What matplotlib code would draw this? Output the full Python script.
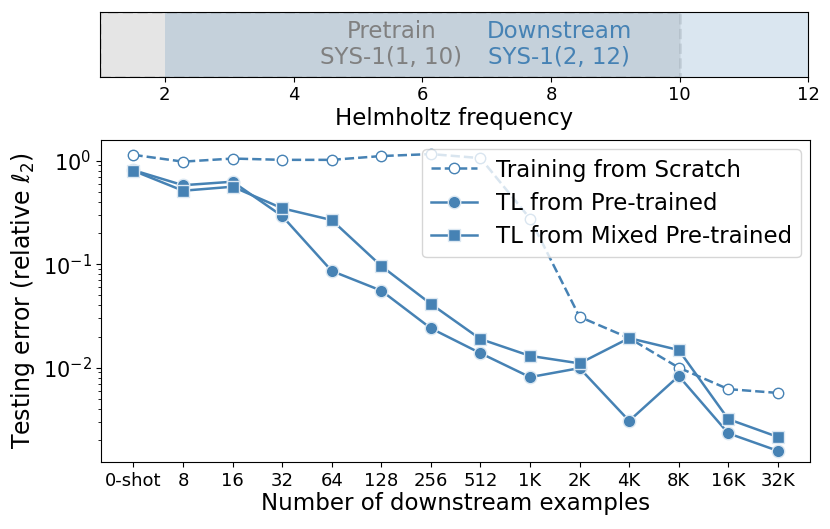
import matplotlib
matplotlib.use('Agg')
import matplotlib.pyplot as plt
import numpy as np

# data
labels = ['0-shot', '8', '16', '32', '64', '128', '256', '512',
          '1K', '2K', '4K', '8K', '16K', '32K']
scratch = [1.14, 0.98, 1.05, 1.02, 1.02, 1.11, 1.16, 1.06,
           0.276, 0.031, 0.0193, 0.0100, 0.0062, 0.0057]
tl_pre = [0.81, 0.58, 0.627, 0.292, 0.086, 0.0555, 0.0240, 0.0138,
          0.0081, 0.0099, 0.00306, 0.0083, 0.00232, 0.00157]
tl_mixed = [0.80, 0.513, 0.561, 0.347, 0.267, 0.096, 0.0413, 0.0189,
            0.0130, 0.0110, 0.0193, 0.0148, 0.00318, 0.00214]

pretrain_range = (1, 10)
downstream_range = (2, 12)

color = 'steelblue'
x = np.arange(len(labels))

fig = plt.figure(figsize=(8.3, 5.29), dpi=100)

# bande du haut : plages de frequence
ax0 = fig.add_axes([0.121, 0.855, 0.853, 0.122])
ax0.axvspan(*pretrain_range, facecolor='gray', alpha=0.2,
            edgecolor='gray', linestyle='--', linewidth=2)
ax0.axvspan(*downstream_range, facecolor=color, alpha=0.2)
ax0.set_xlim(1, 12)
ax0.set_xticks([2, 4, 6, 8, 10, 12])
ax0.set_yticks([])
ax0.tick_params(labelsize=13)
ax0.set_xlabel('Helmholtz frequency', fontsize=16.5, labelpad=2)
ax0.text(6.62, 0.5, 'Pretrain\nSYS-1(1, 10)', color='gray', fontsize=16.5,
         ha='right', va='center', multialignment='center',
         transform=ax0.get_xaxis_transform())
ax0.text(7.0, 0.5, 'Downstream\nSYS-1(2, 12)', color=color, fontsize=16.5,
         ha='left', va='center', multialignment='center',
         transform=ax0.get_xaxis_transform())

# graphique principal
ax = fig.add_axes([0.122, 0.127, 0.854, 0.608])
ax.plot(x, scratch, '--o', color=color, markerfacecolor='white',
        markersize=7.5, linewidth=1.8, label='Training from Scratch')
ax.plot(x, tl_pre, '-o', color=color, markeredgecolor='#dce8f2',
        markersize=9, linewidth=1.8, label='TL from Pre-trained')
ax.plot(x, tl_mixed, '-s', color=color, markeredgecolor='#dce8f2',
        markersize=9, linewidth=1.8, label='TL from Mixed Pre-trained')
ax.set_yscale('log')
ax.set_ylim(0.00123, 1.58)
ax.set_xlim(-0.65, 13.65)
ax.set_xticks(x)
ax.set_xticklabels(labels)
ax.tick_params(axis='x', labelsize=13)
ax.tick_params(axis='y', labelsize=15)
ax.set_xlabel('Number of downstream examples', fontsize=16.5, labelpad=2)
ax.set_ylabel(r'Testing error (relative $\ell_2$)', fontsize=17)
ax.legend(loc='upper right', fontsize=16.5, framealpha=0.8,
          borderaxespad=0.4, labelspacing=0.45)

fig.savefig('out.png', dpi=100)
